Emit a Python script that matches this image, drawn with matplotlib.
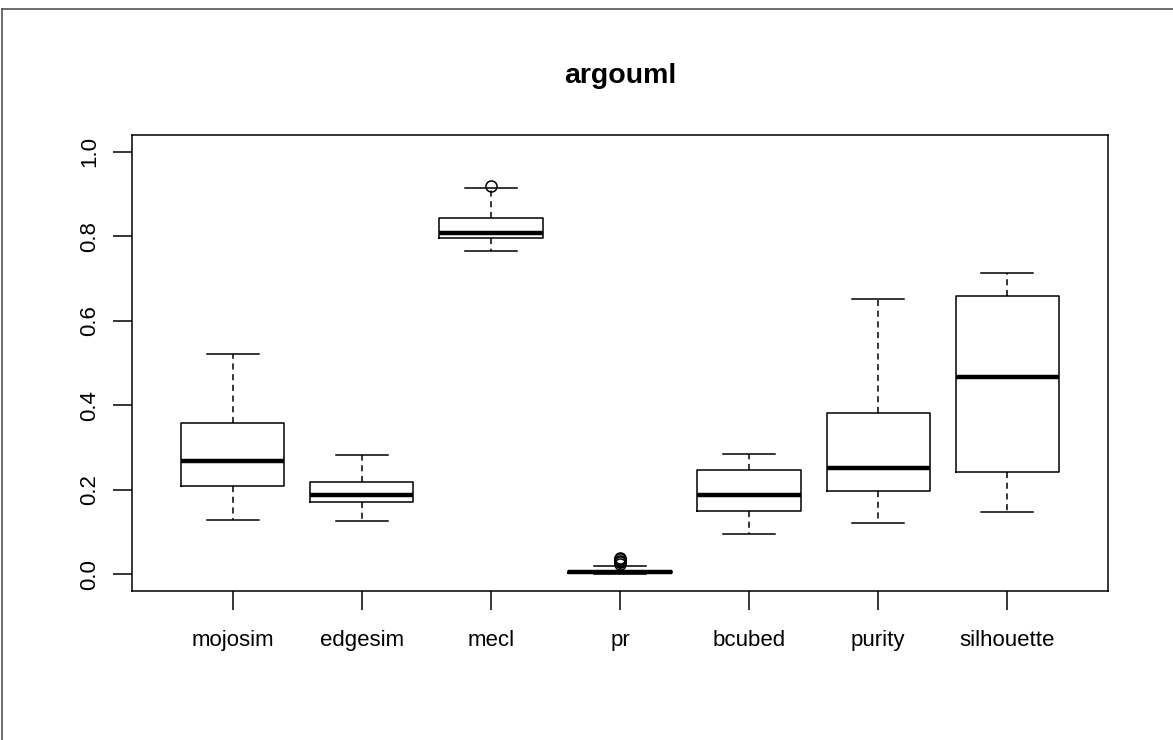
import matplotlib
matplotlib.use("Agg")
import matplotlib.pyplot as plt
from matplotlib.lines import Line2D

plt.rcParams['font.family'] = ['Liberation Sans', 'DejaVu Sans']

# per-metric box statistics
metrics = ['mojosim', 'edgesim', 'mecl', 'pr', 'bcubed', 'purity', 'silhouette']
whis_lo = [0.128, 0.125, 0.765, 0.000, 0.095, 0.122, 0.147]
q1 = [0.209, 0.171, 0.795, 0.003, 0.150, 0.196, 0.242]
medians = [0.268, 0.187, 0.809, 0.005, 0.187, 0.252, 0.467]
q3 = [0.359, 0.217, 0.843, 0.008, 0.246, 0.382, 0.659]
whis_hi = [0.521, 0.283, 0.914, 0.019, 0.284, 0.651, 0.713]
outliers = [[], [], [0.919], [0.024, 0.028, 0.032, 0.036, 0.038], [], [], []]

stats = []
for i, name in enumerate(metrics):
    stats.append(dict(label=name, med=medians[i], q1=q1[i], q3=q3[i],
                      whislo=whis_lo[i], whishi=whis_hi[i], fliers=outliers[i]))

fig = plt.figure(figsize=(11.73, 7.40), dpi=100)
ax = fig.add_axes([132 / 1173, 1 - 591 / 740, (1108 - 132) / 1173, (591 - 135) / 740])

ax.bxp(stats, positions=range(1, 8), widths=0.8, showfliers=True,
       boxprops=dict(color='black', linewidth=1.1),
       medianprops=dict(color='black', linewidth=3.2, solid_capstyle='butt'),
       whiskerprops=dict(color='black', linewidth=1.1, linestyle=(0, (4, 3))),
       capprops=dict(color='black', linewidth=1.1),
       capwidths=0.4,
       flierprops=dict(marker='o', markerfacecolor='none', markeredgecolor='black',
                       markersize=8, markeredgewidth=1.1))

ax.set_xlim(0.22, 7.78)
ax.set_ylim(-0.04, 1.04)
ax.set_yticks([0.0, 0.2, 0.4, 0.6, 0.8, 1.0])
ax.set_yticklabels(['0.0', '0.2', '0.4', '0.6', '0.8', '1.0'], rotation=90, va='center')
ax.set_xticks(range(1, 8))
ax.set_xticklabels(metrics)
ax.tick_params(axis='both', direction='out', length=14, width=1.1, labelsize=16,
               colors='black')
ax.tick_params(axis='x', pad=14)
ax.tick_params(axis='y', pad=9)
for s in ax.spines.values():
    s.set_linewidth(1.1)

fig.text(620 / 1173, 1 - 76 / 740, 'argouml', ha='center', va='center',
         fontsize=20.5, fontweight='bold')

# outer frame lines (top and left)
fig.add_artist(Line2D([2 / 1173, 1], [1 - 9 / 740, 1 - 9 / 740], color='#555555',
                      linewidth=1.2, transform=fig.transFigure))
fig.add_artist(Line2D([2 / 1173, 2 / 1173], [0, 1 - 9 / 740], color='#555555',
                      linewidth=1.2, transform=fig.transFigure))

fig.savefig('out.png', dpi=100)
